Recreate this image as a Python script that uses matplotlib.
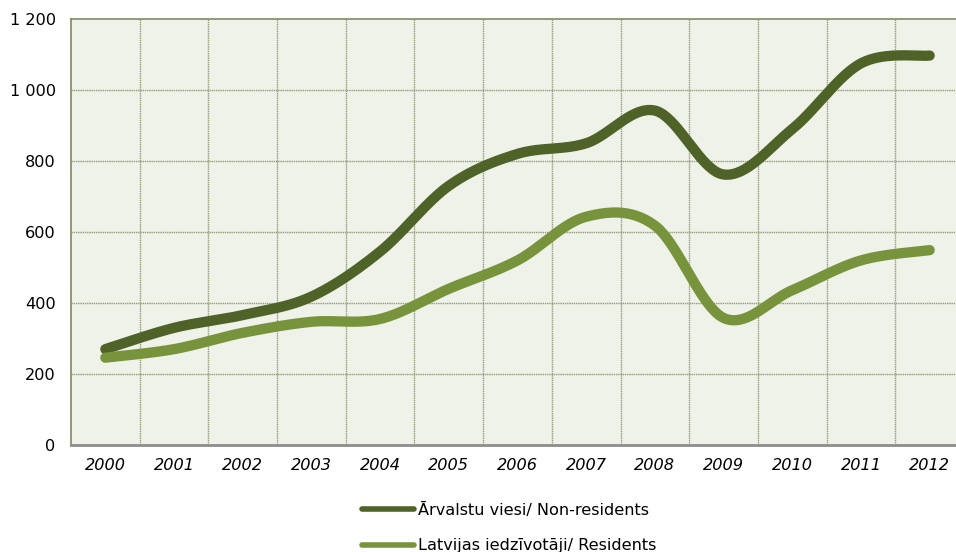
import numpy as np
import matplotlib
matplotlib.use("Agg")
import matplotlib.pyplot as plt
from matplotlib.lines import Line2D
from matplotlib.ticker import FuncFormatter, MultipleLocator

years = ["2000", "2001", "2002", "2003", "2004", "2005", "2006",
         "2007", "2008", "2009", "2010", "2011", "2012"]
non_residents = [270, 330, 366, 418, 545, 730, 820, 850, 942, 762, 890, 1075, 1097]
residents = [246, 270, 316, 347, 355, 440, 520, 643, 618, 358, 436, 520, 549]

label_non = "Ārvalstu viesi/ Non-residents"
label_res = "Latvijas iedzīvotāji/ Residents"

dark = "#4F6228"
light = "#77933C"
grid_col = "#939C7C"
frame_col = "#7F8A63"
fs = 11.6


def smooth(values, steps=40):
    """Bezier smoothing through every point (Catmull-Rom style control points)."""
    y = np.asarray(values, dtype=float)
    x = np.arange(len(y), dtype=float)
    pts = np.column_stack([x, y])
    ext = np.vstack([pts[0], pts, pts[-1]])
    t = np.linspace(0, 1, steps)[:, None]
    out = []
    for i in range(len(pts) - 1):
        p0, p3 = ext[i + 1], ext[i + 2]
        c1 = p0 + (ext[i + 2] - ext[i]) / 6.0
        c2 = p3 - (ext[i + 3] - ext[i + 1]) / 6.0
        seg = ((1 - t) ** 3) * p0 + 3 * ((1 - t) ** 2) * t * c1 \
            + 3 * (1 - t) * t ** 2 * c2 + t ** 3 * p3
        out.append(seg if i == 0 else seg[1:])
    curve = np.vstack(out)
    return curve[:, 0], curve[:, 1]


fig = plt.figure(figsize=(9.56, 5.52), dpi=100)
ax = fig.add_axes([71 / 956, 107 / 552, (964 - 71) / 956, (445 - 19) / 552])
ax.set_facecolor("#EEF2E8")

for vals, col in ((non_residents, dark), (residents, light)):
    sx, sy = smooth(vals)
    ax.plot(sx, sy, color=col, lw=7.4, solid_capstyle="round",
            solid_joinstyle="round", zorder=3)

ax.set_xlim(-0.5, len(years) - 0.5)
ax.set_ylim(0, 1200)
ax.set_xticks(range(len(years)))
ax.set_xticklabels(years, fontstyle="italic", fontsize=fs)
ax.yaxis.set_major_locator(MultipleLocator(200))
ax.yaxis.set_major_formatter(
    FuncFormatter(lambda v, p: f"{int(v):,}".replace(",", " ")))
ax.tick_params(axis="y", length=0, pad=11, labelsize=fs)
ax.tick_params(axis="x", length=0, pad=9)

# dotted grid: horizontal at y ticks, vertical between categories
for yv in range(200, 1200, 200):
    ax.axhline(yv, color=grid_col, lw=1.0, ls=(0, (1, 0.6)), zorder=1)
for xv in np.arange(0.5, len(years) - 0.5, 1.0):
    ax.axvline(xv, color=grid_col, lw=1.0, ls=(0, (1, 0.6)), zorder=1)

for side in ("left", "top", "right"):
    ax.spines[side].set_color(frame_col)
    ax.spines[side].set_linewidth(1.2)
ax.spines["bottom"].set_color("#8C8C8C")
ax.spines["bottom"].set_linewidth(2)

handles = [Line2D([], [], color=dark, lw=4, solid_capstyle="round"),
           Line2D([], [], color=light, lw=4, solid_capstyle="round")]
fig.legend(handles, [label_non, label_res], loc="center left",
           bbox_to_anchor=(362 / 956, 24 / 552), frameon=False,
           fontsize=fs, handlelength=3.25, handletextpad=0.2,
           labelspacing=1.27, borderpad=0, borderaxespad=0)

fig.savefig("out.png", dpi=100)
